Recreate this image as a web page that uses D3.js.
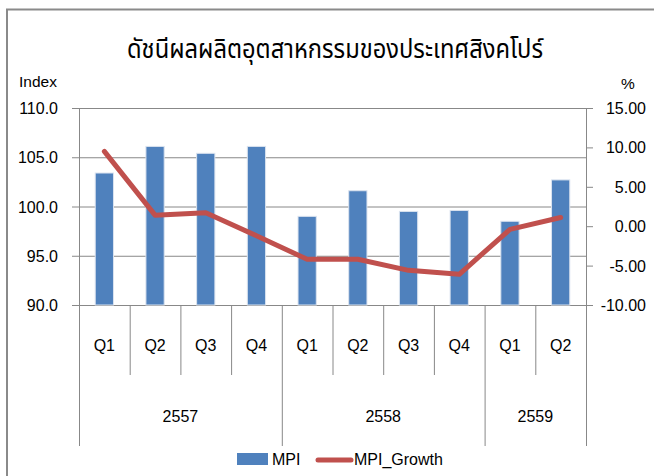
<!DOCTYPE html>
<html>
<head>
<meta charset="utf-8">
<script src="https://cdn.jsdelivr.net/npm/d3@7"></script>
<style>
  body { margin: 0; background: #fff; }
  text { font-family: "Liberation Sans", Arial, sans-serif; fill: #000; }
</style>
</head>
<body>
<svg id="canvas"></svg>
<script>
var w = 654;
var h = 476;

var title = 'ดัชนีผลผลิตอุตสาหกรรมของประเทศสิงคโปร์'
var quarters = ['Q1', 'Q2', 'Q3', 'Q4', 'Q1', 'Q2', 'Q3', 'Q4', 'Q1', 'Q2']
var years = ['2557', '2558', '2559']
var yearSpan = [4, 4, 2]
var mpi = [103.4, 106.1, 105.4, 106.1, 99.0, 101.6, 99.5, 99.6, 98.5, 102.7]
var mpiGrowth = [9.5, 1.4, 1.7, -1.2, -4.2, -4.2, -5.6, -6.1, -0.4, 1.1]
var leftTicks = [90, 95, 100, 105, 110]
var rightTicks = [-10, -5, 0, 5, 10, 15]

var plotL = 79, plotR = 586, plotT = 108, plotB = 305;

var svg = d3.select('#canvas')
  .attr('width', w)
  .attr('height', h)
  .attr('viewBox', [0, 0, w, h]);

// outer frame (only top and left edges are visible in the picture)
svg.append('rect')
  .attr('x', 7).attr('y', 9.5)
  .attr('width', 700).attr('height', 500)
  .style('fill', 'none')
  .style('stroke', '#8a8a8a')
  .style('stroke-width', 2);

svg.append('text')
  .attr('x', 335).attr('y', 58)
  .attr('text-anchor', 'middle')
  .attr('textLength', 416)
  .attr('lengthAdjust', 'spacingAndGlyphs')
  .style('font-family', '"Noto Sans Thai", "Noto Sans", "DejaVu Sans", sans-serif')
  .style('font-size', '27px')
  .text(title);

var x = d3.scaleBand()
  .domain(d3.range(mpi.length))
  .range([plotL, plotR]);

var yL = d3.scaleLinear().domain([90, 110]).range([plotB, plotT]);
var yR = d3.scaleLinear().domain([-10, 15]).range([plotB, plotT]);

// gridlines
svg.selectAll('.grid')
  .data(leftTicks)
  .enter().append('line')
  .attr('class', 'grid')
  .attr('x1', plotL - 7).attr('x2', plotR)
  .attr('y1', d => yL(d) + 0.5).attr('y2', d => yL(d) + 0.5)
  .style('stroke', '#888')
  .style('stroke-width', 1);

// right axis ticks
svg.selectAll('.rtick')
  .data(rightTicks)
  .enter().append('line')
  .attr('class', 'rtick')
  .attr('x1', plotR).attr('x2', plotR + 7)
  .attr('y1', d => yR(d) + 0.5).attr('y2', d => yR(d) + 0.5)
  .style('stroke', '#888');

// bars
svg.selectAll('.bar')
  .data(mpi)
  .enter().append('rect')
  .attr('class', 'bar')
  .attr('x', (d, i) => x(i) + x.bandwidth() * 0.32)
  .attr('width', x.bandwidth() * 0.36)
  .attr('y', d => yL(d))
  .attr('height', d => plotB - yL(d))
  .style('fill', '#4f81bd')
  .style('stroke', '#dbe3ef')
  .style('stroke-width', 1);

// axis lines
svg.append('line')
  .attr('x1', plotL + 0.5).attr('x2', plotL + 0.5)
  .attr('y1', plotT).attr('y2', 446)
  .style('stroke', '#888');
svg.append('line')
  .attr('x1', plotR + 0.5).attr('x2', plotR + 0.5)
  .attr('y1', plotT).attr('y2', 446)
  .style('stroke', '#888');

// category separators
var qSep = d3.range(1, mpi.length);
var yearBounds = d3.cumsum(yearSpan);
svg.selectAll('.qsep')
  .data(qSep)
  .enter().append('line')
  .attr('class', 'qsep')
  .attr('x1', d => x(d) + 0.5).attr('x2', d => x(d) + 0.5)
  .attr('y1', plotB)
  .attr('y2', d => yearBounds.includes(d) ? 446 : 375)
  .style('stroke', '#888');

svg.selectAll('.qlab')
  .data(quarters)
  .enter().append('text')
  .attr('class', 'qlab')
  .attr('x', (d, i) => x(i) + x.bandwidth() / 2)
  .attr('y', 351)
  .attr('text-anchor', 'middle')
  .style('font-size', '16px')
  .text(d => d);

svg.selectAll('.ylab')
  .data(years)
  .enter().append('text')
  .attr('class', 'ylab')
  .attr('x', (d, i) => {
    var s = i == 0 ? 0 : yearBounds[i - 1];
    return (x(s) + x(yearBounds[i] - 1) + x.bandwidth()) / 2;
  })
  .attr('y', 422)
  .attr('text-anchor', 'middle')
  .style('font-size', '16px')
  .text(d => d);

// line series
var line = d3.line()
  .x((d, i) => x(i) + x.bandwidth() / 2)
  .y(d => yR(d));
svg.append('path')
  .datum(mpiGrowth)
  .attr('d', line)
  .style('fill', 'none')
  .style('stroke', '#c0504d')
  .style('stroke-width', 5)
  .style('stroke-linejoin', 'round')
  .style('stroke-linecap', 'round');

// axis labels
svg.selectAll('.llab')
  .data(leftTicks)
  .enter().append('text')
  .attr('class', 'llab')
  .attr('x', 58)
  .attr('y', d => yL(d) + 6)
  .attr('text-anchor', 'end')
  .style('font-size', '16px')
  .text(d => d.toFixed(1));

svg.selectAll('.rlab')
  .data(rightTicks)
  .enter().append('text')
  .attr('class', 'rlab')
  .attr('x', 646)
  .attr('y', d => yR(d) + 6)
  .attr('text-anchor', 'end')
  .style('font-size', '16px')
  .text(d => d.toFixed(2));

svg.append('text')
  .attr('x', 19).attr('y', 87)
  .style('font-size', '15.5px')
  .text('Index');
svg.append('text')
  .attr('x', 628).attr('y', 89)
  .attr('text-anchor', 'middle')
  .style('font-size', '15.5px')
  .text('%');

// legend
var lg = svg.append('g');
lg.append('rect')
  .attr('x', 237).attr('y', 453)
  .attr('width', 31).attr('height', 12)
  .style('fill', '#4f81bd');
lg.append('text')
  .attr('x', 272).attr('y', 465)
  .style('font-size', '16px')
  .text('MPI');
lg.append('line')
  .attr('x1', 318).attr('x2', 351)
  .attr('y1', 460).attr('y2', 460)
  .style('stroke', '#c0504d')
  .style('stroke-width', 5)
  .style('stroke-linecap', 'round');
lg.append('text')
  .attr('x', 354).attr('y', 465)
  .style('font-size', '16px')
  .text('MPI_Growth');
</script>
</body>
</html>
